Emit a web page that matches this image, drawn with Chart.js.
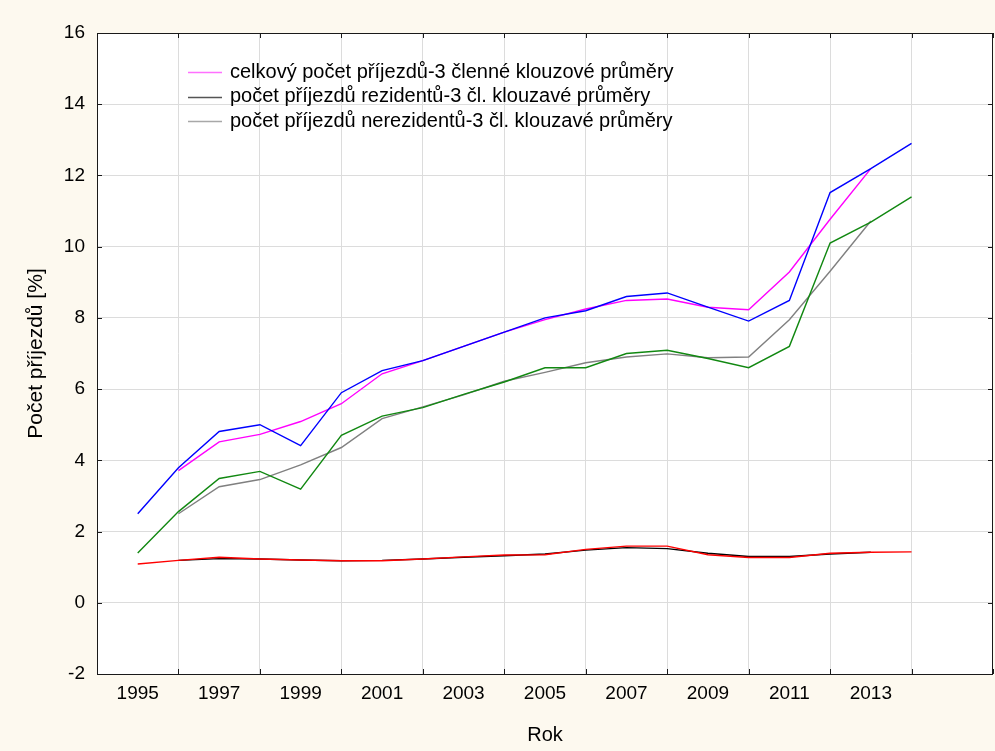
<!DOCTYPE html>
<html>
<head>
<meta charset="utf-8">
<script src="https://cdn.jsdelivr.net/npm/chart.js@4/dist/chart.umd.min.js"></script>
<style>
  html, body { margin: 0; padding: 0; background: #fdf9ef; overflow: hidden; }
  #wrap { width: 995px; height: 751px; position: relative; }
</style>
</head>
<body>
<div id="wrap"><canvas id="arrivalsChart"></canvas></div>
<script>
const years = [1995, 1996, 1997, 1998, 1999, 2000, 2001, 2002, 2003, 2004,
               2005, 2006, 2007, 2008, 2009, 2010, 2011, 2012, 2013, 2014];
const xTickLabels = ['1995', '1997', '1999', '2001', '2003', '2005', '2007', '2009', '2011', '2013'];

// celkový počet příjezdů (surová data + 3členné klouzavé průměry)
const totalRaw = [2.50, 3.79, 4.81, 5.00, 4.41, 5.90, 6.52, 6.80, 7.20, 7.60,
                  8.00, 8.20, 8.60, 8.70, 8.30, 7.91, 8.49, 11.52, 12.19, 12.90];
const totalMA = [null, 3.71, 4.52, 4.73, 5.09, 5.59, 6.43, 6.80, 7.20, 7.60,
                 7.95, 8.25, 8.49, 8.53, 8.30, 8.23, 9.29, 10.77, 12.19, null];

// rezidenti
const residentRaw = [1.09, 1.19, 1.28, 1.23, 1.20, 1.18, 1.18, 1.23, 1.29, 1.34,
                     1.35, 1.50, 1.59, 1.59, 1.35, 1.27, 1.27, 1.39, 1.42, 1.43];
const residentMA = [null, 1.19, 1.24, 1.23, 1.20, 1.18, 1.19, 1.23, 1.28, 1.32,
                    1.37, 1.48, 1.55, 1.52, 1.39, 1.30, 1.30, 1.37, 1.42, null];

// nerezidenti
const nonresidentRaw = [1.40, 2.56, 3.49, 3.69, 3.19, 4.70, 5.24, 5.48, 5.85, 6.20,
                        6.60, 6.60, 7.00, 7.09, 6.86, 6.60, 7.20, 10.10, 10.69, 11.40];
const nonresidentMA = [null, 2.50, 3.26, 3.46, 3.87, 4.36, 5.17, 5.50, 5.84, 6.22,
                       6.47, 6.74, 6.90, 6.99, 6.88, 6.90, 7.95, 9.31, 10.72, null];

const legendLabels = [
  'celkový počet příjezdů-3 členné klouzové průměry',
  'počet příjezdů rezidentů-3 čl. klouzavé průměry',
  'počet příjezdů nerezidentů-3 čl. klouzavé průměry'
];

function toPoints(values) {
  return years.map((yr, i) => ({ x: yr, y: values[i] })).filter(p => p.y !== null);
}

function lineSet(label, values, color) {
  return {
    label: label,
    data: toPoints(values),
    borderColor: color,
    backgroundColor: color,
    borderWidth: 1.4,
    pointRadius: 0,
    tension: 0,
    fill: false
  };
}

const FONT = "'Liberation Sans', Arial, sans-serif";

// bila plocha grafu
const plotBackground = {
  id: 'plotBackground',
  beforeDraw(chart) {
    const { ctx, chartArea: a } = chart;
    ctx.save();
    ctx.fillStyle = '#ffffff';
    ctx.fillRect(a.left, a.top, a.right - a.left, a.bottom - a.top);
    ctx.restore();
  }
};

// ramecek kolem plochy grafu + ticky smerem dovnitr
const frameTicks = {
  id: 'frameTicks',
  afterDraw(chart) {
    const { ctx, chartArea: a, scales } = chart;
    ctx.save();
    ctx.strokeStyle = '#1a1a1a';
    ctx.lineWidth = 1;
    ctx.strokeRect(Math.round(a.left) + 0.5, Math.round(a.top) + 0.5,
                   Math.round(a.right - a.left) - 1, Math.round(a.bottom - a.top));
    ctx.beginPath();
    scales.y.ticks.forEach(t => {
      const py = Math.round(scales.y.getPixelForValue(t.value)) + 0.5;
      ctx.moveTo(a.left, py); ctx.lineTo(a.left + 5, py);
      ctx.moveTo(a.right - 5, py); ctx.lineTo(a.right, py);
    });
    scales.x.ticks.forEach(t => {
      if (t.value % 2 !== 0) return;
      const px = Math.round(scales.x.getPixelForValue(t.value)) + 0.5;
      ctx.moveTo(px, a.bottom); ctx.lineTo(px, a.bottom - 5);
      ctx.moveTo(px, a.top); ctx.lineTo(px, a.top + 5);
    });
    ctx.stroke();
    ctx.restore();
  }
};

// legenda uvnitr grafu
const innerLegend = {
  id: 'innerLegend',
  afterDraw(chart) {
    const { ctx } = chart;
    const sampleColors = ['#ff70ff', '#555555', '#a8a8a8'];
    ctx.save();
    ctx.font = '20px ' + FONT;
    ctx.textBaseline = 'middle';
    ctx.textAlign = 'left';
    legendLabels.forEach((txt, i) => {
      const y = 72 + i * 24.5;
      ctx.strokeStyle = sampleColors[i];
      ctx.lineWidth = 1.5;
      ctx.beginPath();
      ctx.moveTo(188, Math.round(y) + 0.5);
      ctx.lineTo(222, Math.round(y) + 0.5);
      ctx.stroke();
      ctx.fillStyle = '#000';
      ctx.fillText(txt, 230, y);
    });
    ctx.restore();
  }
};

const ctx = document.getElementById('arrivalsChart');

new Chart(ctx, {
  type: 'line',
  data: {
    datasets: [
      lineSet('celkový počet příjezdů', totalRaw, '#0000ff'),
      lineSet(legendLabels[0], totalMA, '#ff00ff'),
      lineSet('počet příjezdů nerezidentů', nonresidentRaw, '#118811'),
      lineSet(legendLabels[2], nonresidentMA, '#808080'),
      lineSet('počet příjezdů rezidentů', residentRaw, '#ff0000'),
      lineSet(legendLabels[1], residentMA, '#000000')
    ]
  },
  options: {
    responsive: true,
    maintainAspectRatio: false,
    animation: false,
    layout: { padding: { left: 0, right: 2, top: 33, bottom: 0 } },
    plugins: {
      legend: { display: false },
      tooltip: { enabled: false }
    },
    scales: {
      x: {
        type: 'linear',
        min: 1994,
        max: 2016,
        afterBuildTicks: scale => {
          scale.ticks = [];
          for (let v = 1994; v <= 2016; v++) scale.ticks.push({ value: v });
        },
        afterFit: scale => {
          scale.height = 77;
          scale.paddingLeft = 0;
          scale.paddingRight = 0;
        },
        grid: {
          drawTicks: false,
          color: c => (c.tick && c.tick.value % 2 === 0 && c.tick.value > 1994 && c.tick.value < 2016) ? '#dcdcdc' : 'rgba(0,0,0,0)',
          lineWidth: 1
        },
        border: { display: false },
        ticks: {
          autoSkip: false,
          maxRotation: 0,
          padding: 8,
          color: '#000',
          font: { family: FONT, size: 19 },
          callback: value => xTickLabels.includes(String(value)) ? String(value) : ''
        },
        title: {
          display: true,
          text: 'Rok',
          color: '#000',
          font: { family: FONT, size: 20 },
          padding: { top: 0, bottom: 4 }
        }
      },
      y: {
        min: -2,
        max: 16,
        afterFit: scale => { scale.width = 97; },
        grid: {
          drawTicks: false,
          color: c => (c.tick && c.tick.value > -2 && c.tick.value < 16) ? '#dcdcdc' : 'rgba(0,0,0,0)',
          lineWidth: 1
        },
        border: { display: false },
        ticks: {
          stepSize: 2,
          padding: 12,
          color: '#000',
          font: { family: FONT, size: 19 }
        },
        title: {
          display: true,
          text: 'Počet příjezdů [%]',
          color: '#000',
          font: { family: FONT, size: 21 },
          padding: { top: 24, bottom: 0 }
        }
      }
    }
  },
  plugins: [plotBackground, frameTicks, innerLegend]
});
</script>
</body>
</html>
